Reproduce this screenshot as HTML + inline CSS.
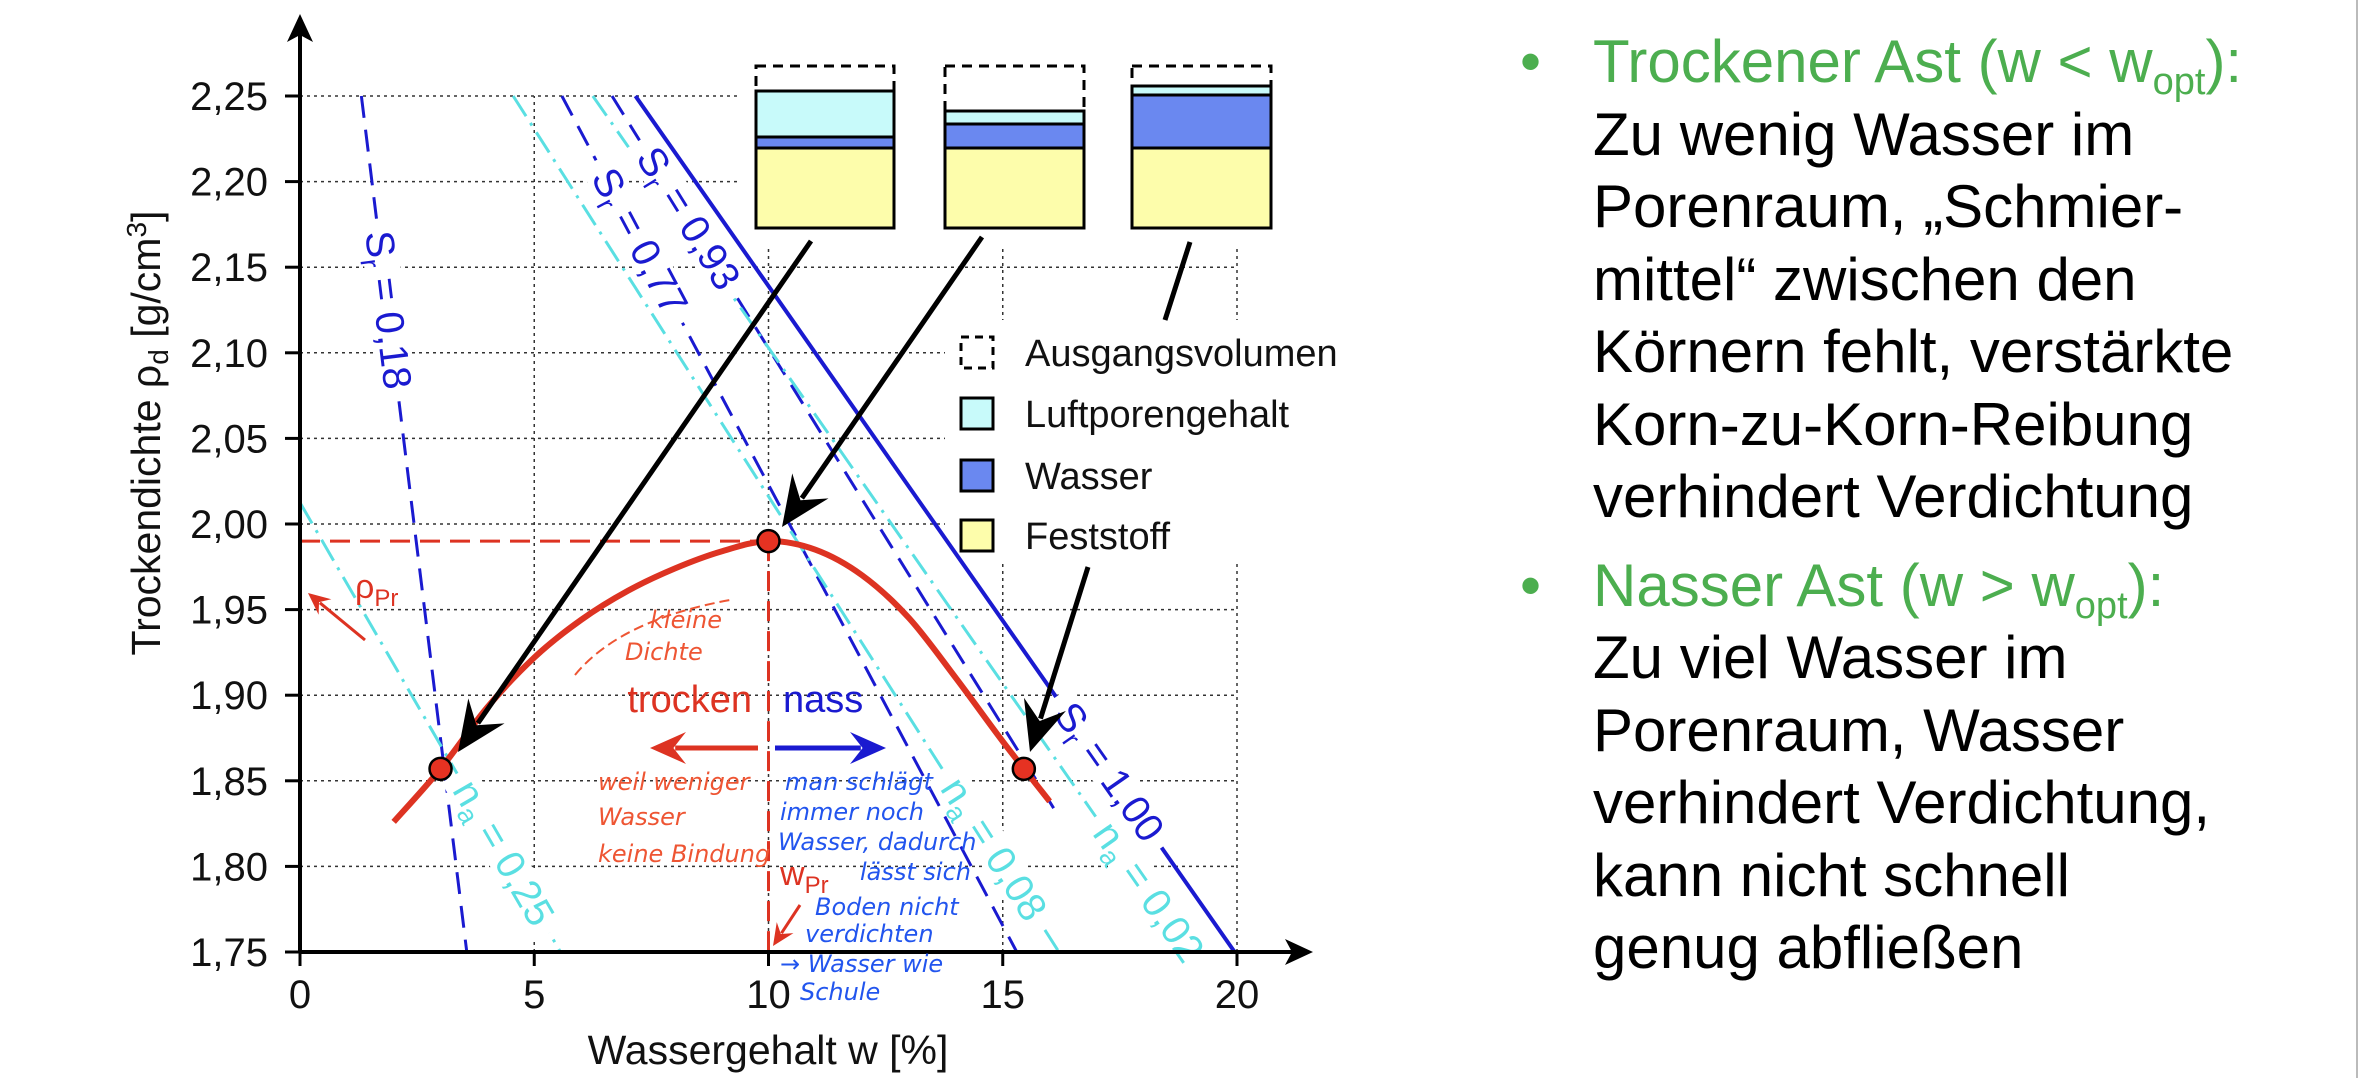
<!DOCTYPE html>
<html><head><meta charset="utf-8"><style>
html,body{margin:0;padding:0;background:#fff;width:2360px;height:1078px;overflow:hidden;font-family:"Liberation Sans",sans-serif}
#txt{position:absolute;left:1520px;top:26px;font-size:60px;line-height:72.5px;color:#000}
.it{position:relative;padding-left:73px}
.it .b{position:absolute;left:0;top:0;color:#4cae4f}
.g{color:#4cae4f}
sub{font-size:38px;line-height:0;vertical-align:-12px}
</style></head><body>
<svg id="chart" width="2360" height="1078" style="position:absolute;left:0;top:0" xmlns="http://www.w3.org/2000/svg"></svg>
<div style="position:absolute;left:2356px;top:0;width:2px;height:1078px;background:#bbb"></div>
<div id="txt">
 <div class="it"><span class="b">•</span><span class="g">Trockener Ast (w &lt; w<sub>opt</sub>):</span><br>Zu wenig Wasser im<br>Porenraum, „Schmier-<br>mittel“ zwischen den<br>Körnern fehlt, verstärkte<br>Korn-zu-Korn-Reibung<br>verhindert Verdichtung</div>
 <div class="it" style="margin-top:16px"><span class="b">•</span><span class="g">Nasser Ast (w &gt; w<sub>opt</sub>):</span><br>Zu viel Wasser im<br>Porenraum, Wasser<br>verhindert Verdichtung,<br>kann nicht schnell<br>genug abfließen</div>
</div>
<script>
const xTicks=[0,5,10,15,20];
const yTicks=[1.75,1.80,1.85,1.90,1.95,2.00,2.05,2.10,2.15,2.20,2.25];
const curveW=[2,3,4,5,6,7,8,9,10,11,12,13,14,15,16];
const curveRho=[1.826,1.857,1.893,1.922,1.944,1.961,1.974,1.984,1.99,1.985,1.970,1.945,1.910,1.873,1.838];
const markerW=[3.0,10.0,15.45];
const markerRho=[1.857,1.99,1.857];
const lineNames=["Sr = 0,18","Sr = 0,77","Sr = 0,93","Sr = 1,00","na = 0,25","na = 0,08","na = 0,02"];
const lineW1=[1.31,5.59,6.66,7.16,0.0,4.55,6.25];
const lineR1=[2.25,2.25,2.25,2.25,2.0125,2.25,2.25];
const lineW2=[3.56,15.3,16.2,19.95,5.56,16.2,19.0];
const lineR2=[1.75,1.75,1.829,1.75,1.75,1.75,1.75];
const lineLabelT=[0.25,0.17,0.17,0.79,0.78,0.88,0.93];
const optW=10.0, optRho=1.99;

const NS="http://www.w3.org/2000/svg";
const svg=document.getElementById('chart');
const X=w=>300+w*46.85;
const Y=r=>952-(r-1.75)*1712;
function mk(t,a,p){const e=document.createElementNS(NS,t);for(const k in a)e.setAttribute(k,a[k]);(p||svg).appendChild(e);return e;}

yTicks.forEach(v=>{const l=mk('line',{x1:X(0),x2:X(20),y1:Y(v),y2:Y(v),stroke:'#333','stroke-width':1.5,'stroke-dasharray':'3 4'});

});
xTicks.slice(1).forEach(v=>{const l=mk('line',{x1:X(v),x2:X(v),y1:Y(1.75),y2:Y(2.25),stroke:'#333','stroke-width':1.5,'stroke-dasharray':'3 4'});

});
mk('rect',{x:740,y:40,width:600,height:208,fill:'#fff'});
mk('rect',{x:945,y:320,width:420,height:240,fill:'#fff'});

const blue='#1a1ad0',cyan='#5adfe2';
const labelQueue=[];
lineNames.forEach((n,i)=>{
 const isNa=n.startsWith('na');const col=isNa?cyan:blue;
 const a={x1:X(lineW1[i]),y1:Y(lineR1[i]),x2:X(lineW2[i]),y2:Y(lineR2[i]),stroke:col,'stroke-width':n==='Sr = 1,00'?4:3};
 if(isNa)a['stroke-dasharray']='24 8 3 8';else if(n!=='Sr = 1,00')a['stroke-dasharray']='22 12';
 const l=mk('line',a);
 
 
 labelQueue.push([n,i,a,col]);
});
labelQueue.forEach(([n,i,a,col])=>{
 const t=lineLabelT[i];
 const cx=a.x1+(a.x2-a.x1)*t, cy=a.y1+(a.y2-a.y1)*t;
 const ang=Math.atan2(a.y2-a.y1,a.x2-a.x1)*180/Math.PI;
 const g=mk('g',{transform:`rotate(${ang} ${cx} ${cy})`});
 
 
 mk('rect',{x:cx-92,y:cy-18,width:184,height:36,fill:'#fff'},g);
 const tx=mk('text',{x:cx,y:cy+13,'text-anchor':'middle','font-size':40,fill:col},g);
 const p=n.split(' ');
 tx.textContent=p[0][0];
 const s=mk('tspan',{'font-size':27,dy:8},tx);s.textContent=p[0].slice(1);
 const r=mk('tspan',{dy:-8},tx);r.textContent=' '+p.slice(1).join(' ');
});

const red='#dd3322';
mk('line',{x1:X(0),y1:Y(optRho),x2:X(optW),y2:Y(optRho),stroke:red,'stroke-width':3,'stroke-dasharray':'20 10'});
mk('line',{x1:X(optW),y1:Y(optRho),x2:X(optW),y2:Y(1.75),stroke:red,'stroke-width':3,'stroke-dasharray':'20 10'});

(function(){
 const P=curveW.map((w,i)=>[X(w),Y(curveRho[i])]);
 let d='M'+P[0].join(',');
 for(let i=0;i<P.length-1;i++){const p0=P[Math.max(0,i-1)],p1=P[i],p2=P[i+1],p3=P[Math.min(P.length-1,i+2)];
  d+=` C${p1[0]+(p2[0]-p0[0])/6},${p1[1]+(p2[1]-p0[1])/6} ${p2[0]-(p3[0]-p1[0])/6},${p2[1]-(p3[1]-p1[1])/6} ${p2[0]},${p2[1]}`;}
 const c=mk('path',{d:d,fill:'none',stroke:red,'stroke-width':6});
 
 
})();

function arrow(x1,y1,x2,y2,col,w,L,H){
 const a=Math.atan2(y2-y1,x2-x1),c=Math.cos(a),s=Math.sin(a);
 mk('line',{x1:x1,y1:y1,x2:x2-c*L*0.7,y2:y2-s*L*0.7,stroke:col,'stroke-width':w});
 const bx=x2-c*L,by=y2-s*L,nx=x2-c*L*0.65,ny=y2-s*L*0.65;
 return mk('path',{d:`M${x2},${y2} L${bx-s*H},${by+c*H} L${nx},${ny} L${bx+s*H},${by-c*H} Z`,fill:col});
}
arrow(811,241,458,752,'#000',5,50,22);
arrow(982,237,782,527,'#000',5,50,22);
mk('line',{x1:1190,y1:242,x2:1165,y2:320,stroke:'#000','stroke-width':5});
arrow(1088,567,1030,752,'#000',5,50,22);

markerW.forEach((w,i)=>{const m=mk('circle',{cx:X(w),cy:Y(markerRho[i]),r:11,fill:'#e63222',stroke:'#000','stroke-width':2.5});

});

mk('line',{x1:X(0),y1:Y(1.75),x2:1300,y2:Y(1.75),stroke:'#000','stroke-width':4});
mk('path',{d:`M1313,${Y(1.75)} L1285,${Y(1.75)-13} L1292,${Y(1.75)} L1285,${Y(1.75)+13} Z`,fill:'#000'});
mk('line',{x1:X(0),y1:Y(1.75),x2:X(0),y2:28,stroke:'#000','stroke-width':4});
mk('path',{d:`M${X(0)},14 L${X(0)-13},42 L${X(0)},35 L${X(0)+13},42 Z`,fill:'#000'});
yTicks.forEach(v=>{mk('line',{x1:X(0)-15,x2:X(0),y1:Y(v),y2:Y(v),stroke:'#000','stroke-width':3});
 const t=mk('text',{x:268,y:Y(v)+14,'text-anchor':'end','font-size':40,fill:'#111'});
 
 
 t.textContent=v.toFixed(2).replace('.',',');});
xTicks.forEach(v=>{mk('line',{x1:X(v),x2:X(v),y1:Y(1.75),y2:Y(1.75)+14,stroke:'#000','stroke-width':3});
 const t=mk('text',{x:X(v),y:1008,'text-anchor':'middle','font-size':40,fill:'#111'});
 
 
 t.textContent=v;});
const xt=mk('text',{x:768,y:1064,'text-anchor':'middle','font-size':41,fill:'#111'});


xt.textContent='Wassergehalt w [%]';
const yt=mk('text',{x:0,y:0,'text-anchor':'middle','font-size':41,fill:'#111',transform:'translate(160,433) rotate(-90)'});


yt.innerHTML='Trockendichte ρ<tspan font-size="28" dy="8">d</tspan><tspan dy="-8"> [g/cm</tspan><tspan font-size="28" dy="-14">3</tspan><tspan dy="14">]</tspan>';

const boxes=[[756,894,91,137,148],[945,1084,111,124,148],[1132,1271,86,95,148]];
boxes.forEach((b,i)=>{const g=mk('g',{});
 
 
 mk('rect',{x:b[0],y:66,width:b[1]-b[0],height:b[2]-66,fill:'none',stroke:'#000','stroke-width':3,'stroke-dasharray':'10 7'},g);
 mk('rect',{x:b[0],y:b[2],width:b[1]-b[0],height:b[3]-b[2],fill:'#c8fafa',stroke:'#000','stroke-width':3},g);
 mk('rect',{x:b[0],y:b[3],width:b[1]-b[0],height:b[4]-b[3],fill:'#6a88f0',stroke:'#000','stroke-width':3},g);
 mk('rect',{x:b[0],y:b[4],width:b[1]-b[0],height:228-b[4],fill:'#fdfdab',stroke:'#000','stroke-width':3},g);
});
const legN=['Ausgangsvolumen','Luftporengehalt','Wasser','Feststoff'];
const legC=['none','#c8fafa','#6a88f0','#fdfdab'];
const legY=[352,413,475,535];
legN.forEach((n,i)=>{const a={x:961,y:legY[i]-15,width:32,height:31,fill:legC[i],stroke:'#000','stroke-width':3};
 if(i===0)a['stroke-dasharray']='8 6';
 const r=mk('rect',a);
 
 
 const t=mk('text',{x:1025,y:legY[i]+14,'font-size':38,fill:'#111'});
 
 
 t.textContent=n;});

arrow(365,640,308,593,red,3,22,10);
let t=mk('text',{x:355,y:598,'font-size':34,fill:red});t.innerHTML='ρ<tspan font-size="24" dy="8">Pr</tspan>';


arrow(800,905,773,946,red,3,22,10);
t=mk('text',{x:780,y:885,'font-size':34,fill:red});t.innerHTML='w<tspan font-size="24" dy="8">Pr</tspan>';


t=mk('text',{x:752,y:712,'text-anchor':'end','font-size':38,fill:red});t.textContent='trocken';


t=mk('text',{x:783,y:712,'font-size':38,fill:blue});t.textContent='nass';


arrow(758,748,650,748,red,5,36,16);
arrow(775,748,886,748,blue,5,36,16);
const hw='"DejaVu Sans",sans-serif';
[['kleine',650,628],['Dichte',625,660],['weil weniger',598,790],['Wasser',598,825],['keine Bindung',598,862]].forEach(a=>{
 const e=mk('text',{x:a[1],y:a[2],'font-size':24,'font-style':'italic',fill:'#ee5533','font-family':hw});e.textContent=a[0];
 
 });
mk('path',{d:'M575,675 Q620,620 730,600',fill:'none',stroke:'#ee5533','stroke-width':2,'stroke-dasharray':'10 5'});
[['man schlägt',785,790],['immer noch',780,820],['Wasser, dadurch',778,850],['lässt sich',860,880],['Boden nicht',815,915],['verdichten',805,942],['→ Wasser wie',780,972],['Schule',800,1000]].forEach(a=>{
 const e=mk('text',{x:a[1],y:a[2],'font-size':24,'font-style':'italic',fill:'#2255ee','font-family':hw});e.textContent=a[0];
 
 });
</script>
</body></html>
